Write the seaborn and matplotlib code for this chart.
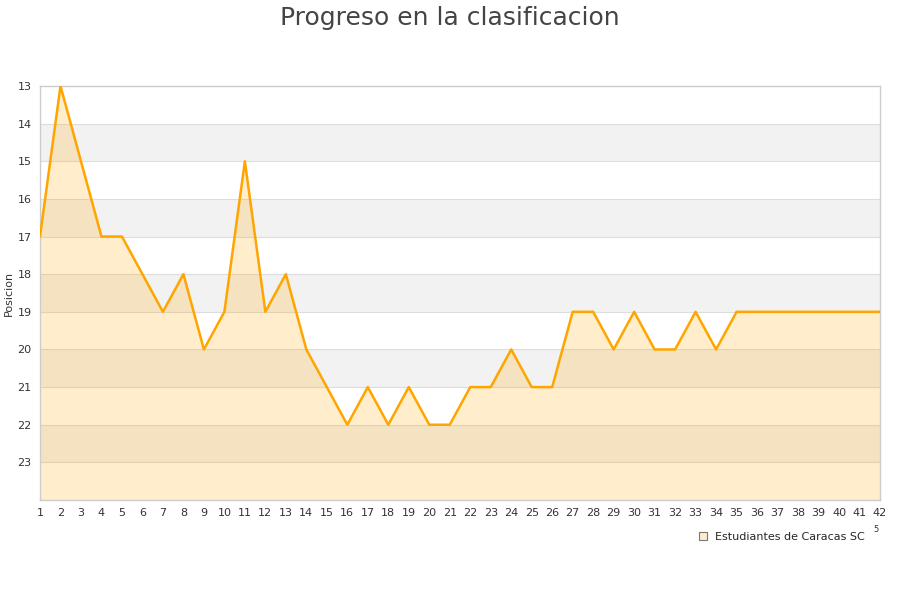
import numpy as np
import pandas as pd
import seaborn as sns
import matplotlib.pyplot as plt

# Dados da classificacao
jornadas = list(range(1, 43))
posiciones = [17, 13, 15, 17, 17, 18, 19, 18, 20, 19,
              15, 19, 18, 20, 21, 22, 21, 22, 21, 22,
              22, 21, 21, 20, 21, 21, 19, 19, 20, 19,
              20, 20, 19, 20, 19, 19, 19, 19, 19, 19,
              19, 19]
equipo = 'Estudiantes de Caracas SC'

df = pd.DataFrame({'jornada': jornadas, 'posicion': posiciones})

sns.set_style('white')
plt.rcParams['font.family'] = ['DejaVu Sans']

fig = plt.figure(figsize=(9, 6), dpi=100)
ax = fig.add_axes([40 / 900, 1 - 500 / 600, 840 / 900, 414 / 600])

# Bandas alternadas
for y0 in range(13, 24):
    if y0 % 2 == 0:
        ax.axhspan(y0, y0 + 1, color='#f2f2f2', zorder=0, lw=0)
for y0 in range(14, 24):
    ax.axhline(y0, color='#dddddd', lw=0.8, zorder=1)

# Area e linha
ax.fill_between(df['jornada'], df['posicion'], 24, color='#FFA500', alpha=0.2, lw=0, zorder=2)
sns.lineplot(data=df, x='jornada', y='posicion', ax=ax, color='#FFA500', lw=1.8, zorder=3)

ax.set_xlim(1, 42)
ax.set_ylim(24, 13)
ax.set_xticks(jornadas)
ax.set_yticks(range(13, 24))
ax.tick_params(axis='both', labelsize=8, colors='#333333', length=0, pad=6)
ax.set_xlabel('')
ax.set_ylabel('Posicion', fontsize=8, color='#333333')
ax.yaxis.set_label_coords(-26 / 840, 0.5)
for s in ax.spines.values():
    s.set_color('#cccccc')
    s.set_linewidth(1)

fig.suptitle('Progreso en la clasificacion', fontsize=18, color='#444444', y=0.99)

# Leyenda
h = plt.Line2D([], [], marker='s', ls='', markersize=6, markerfacecolor='#FFEDCC',
               markeredgecolor='#777777', markeredgewidth=0.8)
fig.legend([h], [equipo], loc='center right', bbox_to_anchor=(0.972, 0.105),
           frameon=False, fontsize=8, handletextpad=0.6, handlelength=1)
fig.text(0.970, 0.113, '5', fontsize=6, color='#333333')

fig.savefig('out.png', dpi=100)
